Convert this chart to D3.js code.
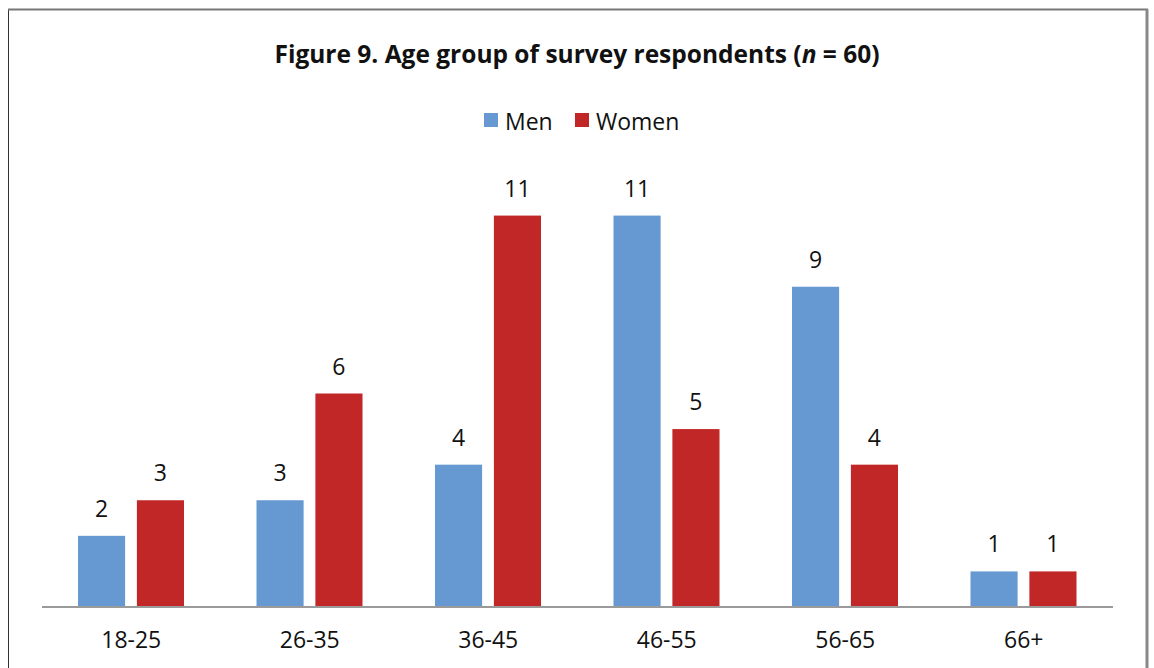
<!DOCTYPE html>
<html>
<head>
<meta charset="utf-8">
<script src="https://cdn.jsdelivr.net/npm/d3@7"></script>
<style>
  html, body { margin: 0; padding: 0; background: #fff; }
  svg { display: block; }
  text { font-family: "Open Sans", "Noto Sans", "Liberation Sans", sans-serif; fill: #111; }
</style>
</head>
<body>
<svg id="chart" width="1154" height="668"></svg>
<script>
// Age groups and respondent counts
const categories = ["18-25", "26-35", "36-45", "46-55", "56-65", "66+"];
const seriesNames = ["Men", "Women"];
const men = [2, 3, 4, 11, 9, 1];
const women = [3, 6, 11, 5, 4, 1];
const titleText = "Figure 9. Age group of survey respondents (";
const colors = { Men: "#6699d1", Women: "#c12727" };

const svg = d3.select("#chart");

// outer frame
svg.append("line").attr("x1", 8.5).attr("x2", 8.5).attr("y1", 9).attr("y2", 668)
  .attr("stroke", "#333").attr("stroke-width", 1);
svg.append("line").attr("x1", 8).attr("x2", 1148).attr("y1", 9.5).attr("y2", 9.5)
  .attr("stroke", "#777").attr("stroke-width", 2);
svg.append("line").attr("x1", 1147).attr("x2", 1147).attr("y1", 9).attr("y2", 668)
  .attr("stroke", "#888").attr("stroke-width", 3);

const plot = { left: 42, right: 1113, baseline: 607 };

const x0 = d3.scaleBand().domain(categories).range([plot.left, plot.right]).paddingInner(0).paddingOuter(0);
const x1 = d3.scaleBand().domain(seriesNames).range([36, 142]).paddingInner(0.2).paddingOuter(0);
const y = d3.scaleLinear().domain([0, 12]).range([plot.baseline, plot.baseline - 427]);

const rows = categories.map((c, i) => ({ category: c, values: [
  { series: "Men", value: men[i] },
  { series: "Women", value: women[i] }
]}));

const groups = svg.append("g").selectAll("g").data(rows).join("g")
  .attr("transform", d => `translate(${x0(d.category)},0)`);

groups.selectAll("rect").data(d => d.values).join("rect")
  .attr("x", d => x1(d.series))
  .attr("width", x1.bandwidth())
  .attr("y", d => y(d.value))
  .attr("height", d => y(0) - y(d.value))
  .attr("fill", d => colors[d.series]);

groups.selectAll("text.val").data(d => d.values).join("text")
  .attr("class", "val")
  .attr("x", d => x1(d.series) + x1.bandwidth() / 2)
  .attr("y", d => y(d.value) - 19)
  .attr("text-anchor", "middle")
  .attr("font-size", 23)
  .text(d => d.value);

// category axis
const axis = svg.append("g").attr("transform", `translate(0,${plot.baseline})`)
  .call(d3.axisBottom(x0).tickSize(0).tickPadding(25));
axis.select(".domain").attr("stroke", "#9a9a9a").attr("stroke-width", 2)
  .attr("d", `M${plot.left},0H${plot.right}`);
axis.selectAll(".tick text").attr("font-size", 23).attr("fill", "#111")
  .attr("font-family", "\"Open Sans\", \"Noto Sans\", sans-serif");

// title
const title = svg.append("text").attr("x", 577).attr("y", 63)
  .attr("text-anchor", "middle").attr("font-size", 24.5).attr("font-weight", "bold");
title.append("tspan").text(titleText);
title.append("tspan").attr("font-style", "italic").text("n");
title.append("tspan").text(" = 60)");

// legend
const legend = svg.append("g");
const legendItems = [
  { name: "Men", sx: 484, tx: 505 },
  { name: "Women", sx: 575, tx: 596 }
];
legendItems.forEach(it => {
  legend.append("rect").attr("x", it.sx).attr("y", 113).attr("width", 14).attr("height", 14)
    .attr("fill", colors[it.name]);
  legend.append("text").attr("x", it.tx).attr("y", 130).attr("font-size", 23).text(it.name);
});
</script>
</body>
</html>
